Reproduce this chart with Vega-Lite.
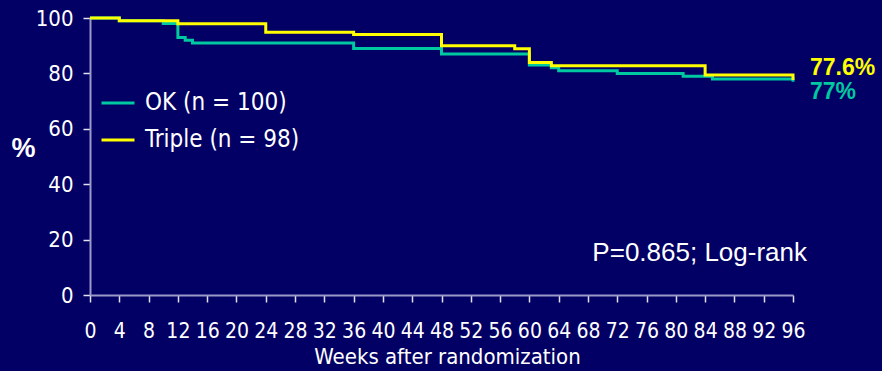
{
  "$schema": "https://vega.github.io/schema/vega-lite/v6.json",
  "width": 703,
  "height": 277,
  "autosize": "none",
  "padding": {"left": 90, "top": 18, "right": 89, "bottom": 76},
  "background": "#020064",
  "config": {
    "view": {"stroke": null},
    "font": "DejaVu Sans Condensed",
    "axis": {
      "grid": false,
      "domainColor": "#9a9ac8",
      "domainWidth": 2,
      "tickColor": "#e0e0f0",
      "tickWidth": 1.5,
      "tickSize": 7,
      "labelColor": "#ffffff",
      "titleColor": "#ffffff",
      "labelFont": "DejaVu Sans Condensed",
      "titleFont": "DejaVu Sans Condensed",
      "labelOverlap": false
    }
  },
  "datasets": {
    "km": [
      {"week": 0, "pct": 100, "arm": "OK (n = 100)"},
      {"week": 4, "pct": 99, "arm": "OK (n = 100)"},
      {"week": 10, "pct": 98, "arm": "OK (n = 100)"},
      {"week": 12, "pct": 93, "arm": "OK (n = 100)"},
      {"week": 13, "pct": 92, "arm": "OK (n = 100)"},
      {"week": 14, "pct": 91, "arm": "OK (n = 100)"},
      {"week": 36, "pct": 89, "arm": "OK (n = 100)"},
      {"week": 48, "pct": 87, "arm": "OK (n = 100)"},
      {"week": 60, "pct": 83, "arm": "OK (n = 100)"},
      {"week": 63, "pct": 82, "arm": "OK (n = 100)"},
      {"week": 64, "pct": 81, "arm": "OK (n = 100)"},
      {"week": 72, "pct": 80, "arm": "OK (n = 100)"},
      {"week": 81, "pct": 79, "arm": "OK (n = 100)"},
      {"week": 85, "pct": 78, "arm": "OK (n = 100)"},
      {"week": 96, "pct": 77, "arm": "OK (n = 100)"},
      {"week": 0, "pct": 100, "arm": "Triple (n = 98)"},
      {"week": 4, "pct": 99, "arm": "Triple (n = 98)"},
      {"week": 12, "pct": 97.9, "arm": "Triple (n = 98)"},
      {"week": 24, "pct": 94.9, "arm": "Triple (n = 98)"},
      {"week": 36, "pct": 94, "arm": "Triple (n = 98)"},
      {"week": 48, "pct": 90, "arm": "Triple (n = 98)"},
      {"week": 58, "pct": 88.9, "arm": "Triple (n = 98)"},
      {"week": 60, "pct": 83.9, "arm": "Triple (n = 98)"},
      {"week": 63, "pct": 82.8, "arm": "Triple (n = 98)"},
      {"week": 84, "pct": 79.4, "arm": "Triple (n = 98)"},
      {"week": 96, "pct": 77.6, "arm": "Triple (n = 98)"}
    ],
    "ends": [
      {"week": 96, "pct": 82.1, "label": "77.6%", "arm": "Triple (n = 98)"},
      {"week": 96, "pct": 73.3, "label": "77%", "arm": "OK (n = 100)"}
    ],
    "note": [
      {"week": 68.6, "pct": 15.2, "label": "P=0.865; Log-rank"}
    ]
  },
  "encoding": {
    "x": {
      "field": "week", "type": "quantitative",
      "scale": {"domain": [0, 96], "nice": false, "zero": false},
      "axis": {
        "values": [0,4,8,12,16,20,24,28,32,36,40,44,48,52,56,60,64,68,72,76,80,84,88,92,96],
        "title": "Weeks after randomization",
        "labelFontSize": 21,
        "labelPadding": 18,
        "titleFontSize": 22,
        "titleFontWeight": "normal",
        "titlePadding": 5,
        "titleX": 357,
        "labelFlush": false,
        "labelOverlap": false
      }
    },
    "y": {
      "field": "pct", "type": "quantitative",
      "scale": {"domain": [0, 100], "nice": false},
      "axis": {
        "values": [0, 20, 40, 60, 80, 100],
        "title": "%",
        "titleAngle": 0,
        "titleX": -67,
        "titleY": 130,
        "titleAlign": "center",
        "titleBaseline": "middle",
        "titleFont": "Liberation Sans",
        "titleFontWeight": "bold",
        "titleFontSize": 27,
        "labelFontSize": 22,
        "labelPadding": 10
      }
    }
  },
  "layer": [
    {
      "data": {"name": "km"},
      "transform": [{"filter": "datum.arm === 'OK (n = 100)'"}],
      "mark": {"type": "line", "interpolate": "step-after", "strokeWidth": 3},
      "encoding": {
        "color": {
          "field": "arm", "type": "nominal",
          "scale": {"domain": ["OK (n = 100)", "Triple (n = 98)"], "range": ["#00c8a0", "#ffff00"]},
          "legend": {
            "title": null,
            "orient": "none",
            "legendX": 10,
            "legendY": 67,
            "padding": 0,
            "symbolType": "stroke",
            "symbolSize": 1089,
            "symbolStrokeWidth": 3,
            "labelColor": "#ffffff",
            "labelFont": "DejaVu Sans Condensed",
            "labelFontSize": 24,
            "labelOffset": 9,
            "rowPadding": 7,
            "labelLimit": 400
          }
        }
      }
    },
    {
      "data": {"name": "km"},
      "transform": [{"filter": "datum.arm === 'Triple (n = 98)'"}],
      "mark": {"type": "line", "interpolate": "step-after", "strokeWidth": 3},
      "encoding": {
        "color": {"field": "arm", "type": "nominal"}
      }
    },
    {
      "data": {"name": "ends"},
      "mark": {"type": "text", "align": "left", "baseline": "middle", "dx": 17, "font": "Liberation Sans", "fontWeight": "bold", "fontSize": 23, "clip": false},
      "encoding": {
        "text": {"field": "label"},
        "color": {"field": "arm", "type": "nominal", "legend": null}
      }
    },
    {
      "data": {"name": "note"},
      "mark": {"type": "text", "align": "left", "baseline": "middle", "font": "Liberation Sans", "fontSize": 26, "color": "#ffffff"},
      "encoding": {
        "text": {"field": "label"}
      }
    }
  ]
}
